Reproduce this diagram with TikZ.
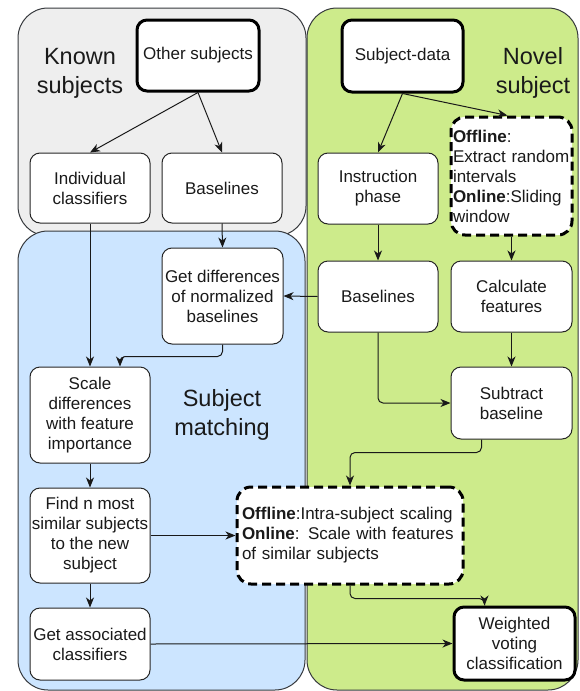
\documentclass[tikz,border=0pt]{standalone}
\usepackage{fontspec}
\setmainfont{Liberation Sans}
\usetikzlibrary{calc, positioning}
\usetikzlibrary{arrows.meta}

\definecolor{knownfill}{HTML}{EEEEEE}
\definecolor{matchfill}{HTML}{CCE5FF}
\definecolor{novelfill}{HTML}{CDEB8B}
\definecolor{panelline}{HTML}{36393D}
\definecolor{inktext}{HTML}{1A1A1A}

\begin{document}
\begin{tikzpicture}[x=1pt, y=-1pt,
  box/.style={draw=black!85, line width=1pt, fill=white, rounded corners=10pt,
    align=center, inner sep=1pt, text=inktext,
    font=\fontsize{17}{20}\selectfont},
  mainbox/.style={box, draw=black, line width=3pt},
  dashbox/.style={box, draw=black, line width=3pt, dash pattern=on 9pt off 5pt,
    align=left, rounded corners=14pt},
  panel/.style={draw=panelline, line width=1pt, rounded corners=30pt},
  title/.style={align=center, text=inktext, font=\fontsize{23.5}{29}\selectfont},
  link/.style={-{Stealth[length=10pt, width=8pt, inset=3pt]}, line width=1pt,
    draw=black!90, rounded corners=5pt}
]
\useasboundingbox (0,0) rectangle (580,691);

\draw[panel, fill=knownfill] (18,8) rectangle (306,236);
\draw[panel, fill=matchfill] (18,231) rectangle (305,690);
\draw[panel, fill=novelfill] (307,8) rectangle (578,690);

\node[title] (known) at (80,73) {Known\\subjects};
\node[title] (novel) at (533,73) {Novel\\subject};
\node[title] (match) at (222,415) {Subject\\matching};

\node[mainbox, minimum width=122pt, minimum height=71pt] (oth) at (198,55.5) {Other subjects};
\node[box, minimum width=120pt, minimum height=70pt] (ind) at (90,188) {Individual\\classifiers};
\node[box, minimum width=120pt, minimum height=70pt] (bk) at (222,188) {Baselines};

\node[mainbox, minimum width=121pt, minimum height=72pt] (sd) at (402.5,56) {Subject-data};
\node[dashbox, text width=117pt, inner xsep=2pt, minimum height=118pt] (off) at (511.5,176)
  {\textbf{Offline}:\\Extract random\\intervals\\\textbf{Online}:Sliding\\window};
\node[box, minimum width=120pt, minimum height=71pt] (ip) at (378,188.5) {Instruction\\phase};

\node[box, minimum width=121pt, minimum height=96pt] (gd) at (222.5,296) {Get differences\\of normalized\\baselines};
\node[box, minimum width=120pt, minimum height=71pt] (bn) at (378,296.5) {Baselines};
\node[box, minimum width=121pt, minimum height=71pt] (cf) at (511.5,296.5) {Calculate\\features};

\node[box, minimum width=120pt, minimum height=96pt] (sc) at (90,415) {Scale\\differences\\with feature\\importance};
\node[box, minimum width=121pt, minimum height=72pt] (sb) at (511.5,403) {Subtract\\baseline};

\node[box, minimum width=120pt, minimum height=95pt] (fn) at (90,535.5) {Find n most\\similar subjects\\to the new\\subject};
\node[dashbox, text width=216pt, inner xsep=5pt, minimum height=97pt] (intra) at (350,535.5)
  {\textbf{Offline}:Intra-subject scaling\\\textbf{Online}: Scale with features\\of similar subjects};

\node[box, minimum width=120pt, minimum height=72pt] (ga) at (90,644) {Get associated\\classifiers};
\node[mainbox, minimum width=121pt, minimum height=73pt] (wv) at (514.5,643.5) {Weighted\\voting\\classification};

\draw[link] (oth.south) -- (ind.north);
\draw[link] (oth.south) -- (bk.north);
\draw[link] (sd.south) -- (ip.north);
\draw[link] (sd.south) -- ($(off.north)+(-4,0)$);
\draw[link] (ind.south) -- (sc.north);
\draw[link] (bk.south) -- (gd.north);
\draw[link] (gd.south) -- ++(0,12) -| ($(sc.north)+(30,0)$);
\draw[link] (bn.west) -- (gd.east);
\draw[link] (ip.south) -- (bn.north);
\draw[link] (off.south) -- (cf.north);
\draw[link] (cf.south) -- (sb.north);
\draw[link] (bn.south) |- (sb.west);
\draw[link] ($(sb.south)+(-30,0)$) -- ++(0,13) -| (intra.north);
\draw[link] (sc.south) -- (fn.north);
\draw[link] (fn.east) -- (intra.west);
\draw[link] (fn.south) -- (ga.north);
\draw[link] (ga.east) -- (wv.west);
\draw[link] (intra.south) -- ++(0,13) -| ($(wv.north)+(-30,0)$);
\end{tikzpicture}
\end{document}
